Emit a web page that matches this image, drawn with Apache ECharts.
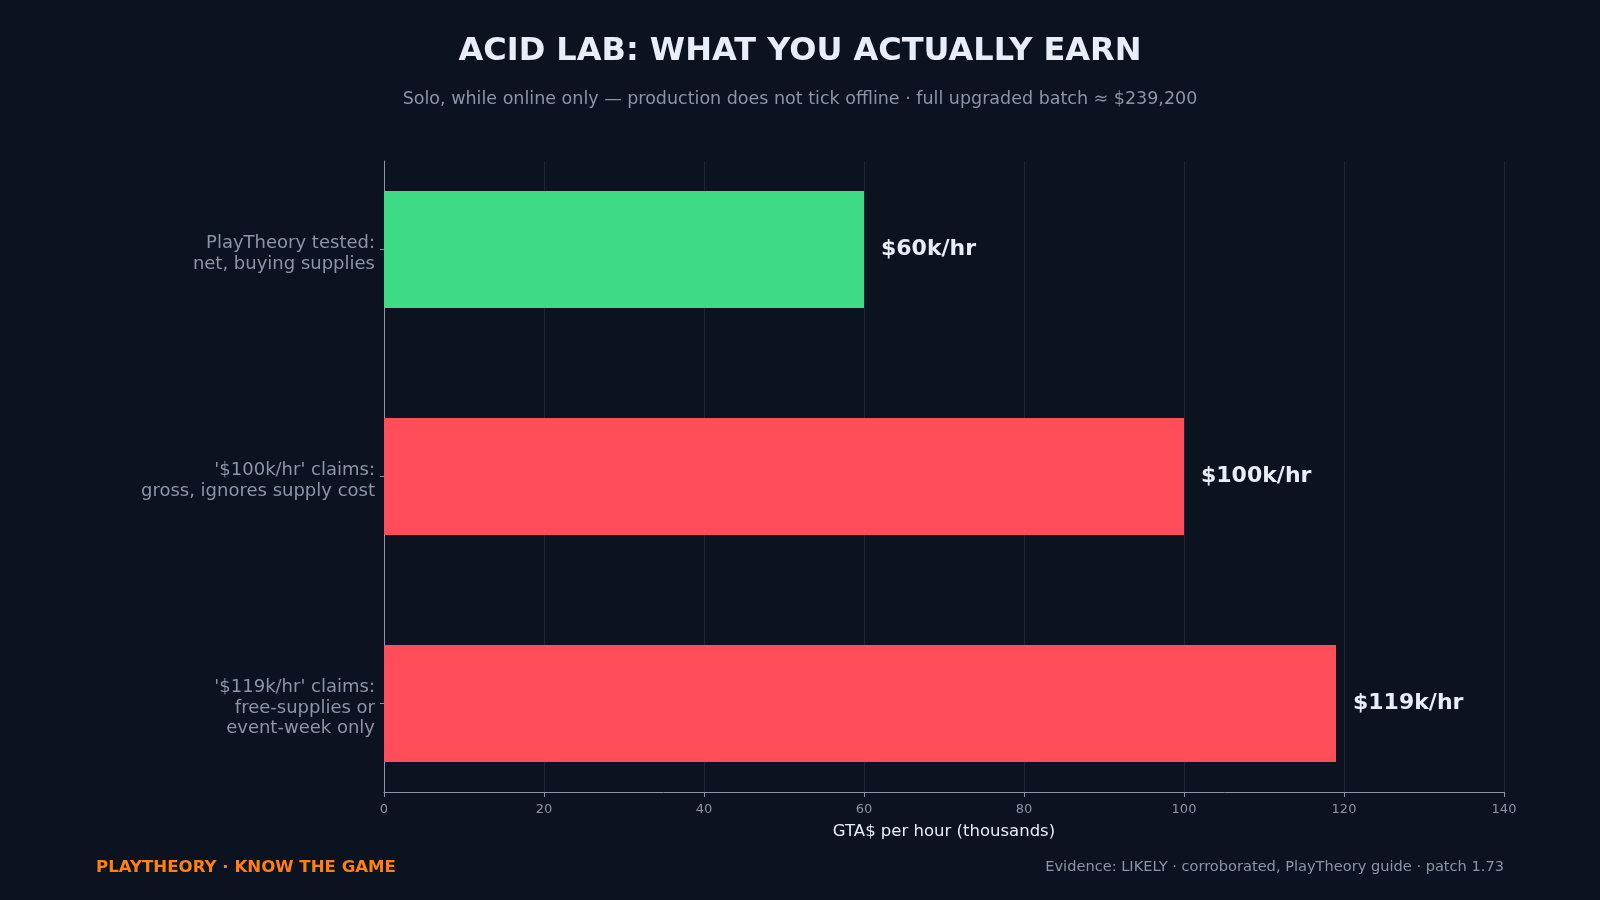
<!DOCTYPE html>
<html><head><meta charset="utf-8">
<script src="https://cdn.jsdelivr.net/npm/echarts@6/dist/echarts.min.js"></script>
<style>html,body{margin:0;padding:0;background:#0b1220;}#c{width:1600px;height:900px;}</style>
</head><body><div id="c"></div>
<script>
const categories = ["PlayTheory tested:\nnet, buying supplies", "'$100k/hr' claims:\ngross, ignores supply cost", "'$119k/hr' claims:\nfree-supplies or\nevent-week only"];
const values = [60, 100, 119];
const valueLabels = ["$60k/hr", "$100k/hr", "$119k/hr"];
const barColors = ["#3ddc84", "#ff4d5a", "#ff4d5a"];
const xTicks = [0, 20, 40, 60, 80, 100, 120, 140];

const FONT = "DejaVu Sans";
const gray = "#8b95a7";
const chart = echarts.init(document.getElementById('c'), null, {renderer: 'canvas'});
chart.setOption({
  backgroundColor: '#0b1220',
  animation: false,
  textStyle: {fontFamily: FONT},
  title: [
    {text: 'ACID LAB: WHAT YOU ACTUALLY EARN', left: 'center', top: 36, padding: 0,
     textStyle: {color: '#e8edf7', fontSize: 32, fontWeight: 'bold', fontFamily: FONT}},
    {text: 'Solo, while online only — production does not tick offline · full upgraded batch ≈ $239,200', left: 'center', top: 90, padding: 0,
     textStyle: {color: gray, fontSize: 17.5, fontWeight: 'normal', fontFamily: FONT}},
    {text: 'PLAYTHEORY · KNOW THE GAME', left: 96, top: 859, padding: 0,
     textStyle: {color: '#ff7f11', fontSize: 16.6, fontWeight: 'bold', fontFamily: FONT}},
    {text: 'Evidence: LIKELY · corroborated, PlayTheory guide · patch 1.73', right: 96, top: 860, padding: 0,
     textStyle: {color: gray, fontSize: 14.6, fontWeight: 'normal', fontFamily: FONT}}
  ],
  grid: [
    {left: 384, right: 96, top: 161, bottom: 108},
    {left: 384, right: 96, top: 136, height: 681},
    {left: 384, right: 96, top: 140.5, height: 681}
  ],
  xAxis: [
    {gridIndex: 0, type: 'value', min: 0, max: 140, interval: 20,
     axisLine: {show: true, lineStyle: {color: gray, width: 1}},
     axisTick: {show: true, length: 5, lineStyle: {color: gray}},
     axisLabel: {color: gray, fontSize: 13, margin: 11, fontFamily: FONT, formatter: v => xTicks.includes(v) ? String(v) : ''},
     splitLine: {show: true, lineStyle: {color: '#1b2638', width: 1}},
     name: 'GTA$ per hour (thousands)', nameLocation: 'middle', nameGap: 31,
     nameTextStyle: {color: '#e8edf7', fontSize: 16.5, fontFamily: FONT}},
    {gridIndex: 1, type: 'value', min: 0, max: 140, show: false},
    {gridIndex: 2, type: 'value', min: 0, max: 140, show: false}
  ],
  yAxis: [
    {gridIndex: 0, type: 'value', min: 0, max: 1,
     axisLine: {show: true, lineStyle: {color: gray, width: 1}},
     axisTick: {show: false}, axisLabel: {show: false}, splitLine: {show: false}},
    {gridIndex: 1, type: 'category', inverse: true, data: categories,
     axisLine: {show: false},
     axisTick: {show: true, alignWithLabel: true, length: 4, lineStyle: {color: gray}},
     axisLabel: {show: false},
     splitLine: {show: false}},
    {gridIndex: 2, type: 'category', inverse: true, data: categories,
     axisLine: {show: false}, axisTick: {show: false},
     axisLabel: {color: gray, fontSize: 18, lineHeight: 20.8, margin: 9, align: 'right', fontFamily: FONT},
     splitLine: {show: false}}
  ],
  series: [{
    type: 'bar', xAxisIndex: 1, yAxisIndex: 1, barWidth: 117,
    data: values.map((v, i) => ({value: v, itemStyle: {color: barColors[i]}})),
    label: {show: true, position: 'right', distance: 17, color: '#e8edf7', fontSize: 22, fontWeight: 'bold', fontFamily: FONT,
      formatter: p => valueLabels[p.dataIndex]}
  }]
});
</script></body></html>
